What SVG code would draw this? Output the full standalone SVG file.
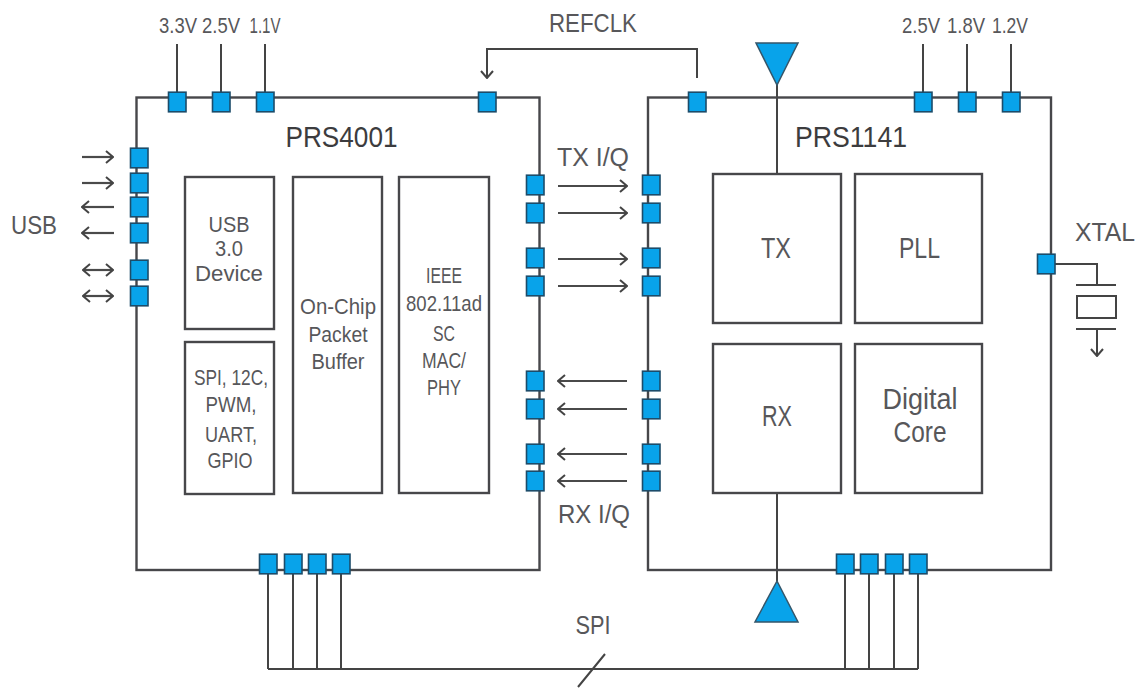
<svg xmlns="http://www.w3.org/2000/svg" width="1136" height="689" viewBox="0 0 1136 689">
<style>
text{font-family:"Liberation Sans",Arial,sans-serif;fill:#57575a;text-anchor:middle}
.t{font-size:22px}.m{font-size:30px;fill:#3c3c3e}.b{font-size:22px}.c{font-size:29px}.s{font-size:22px}.x{font-size:26px}
.box{fill:#fff;stroke:#47474a;stroke-width:2.4}
.chip{fill:none;stroke:#47474a;stroke-width:2.4}
.l{fill:none;stroke:#444;stroke-width:2}
.pad{fill:#08a3ea;stroke:#1c4c6a;stroke-width:1.6}
.ant{fill:#08a3ea;stroke:#35566a;stroke-width:1.5}
.a{fill:none;stroke:#4a4a4a;stroke-width:2.2}
</style>
<defs>
<marker id="ah" viewBox="0 0 10 14" refX="9" refY="7" markerWidth="10" markerHeight="14" markerUnits="userSpaceOnUse" orient="auto-start-reverse"><path d="M2 1L9 7L2 13" fill="none" stroke="#444" stroke-width="2"/></marker>
<rect id="p" x="-8.500" y="-9.800" width="17.500" height="19.600" class="pad"/>
</defs>
<g id="connectors">
<path class="l" d="M177 44V102M221 44V102M265 44V102M923 44V102M967 44V102M1011 44V102"/>
<path class="l" d="M697 78V49H487V78" marker-end="url(#ah)"/>
<path class="l" d="M777 85V174M777 493V581"/>
<path class="l" d="M268 564V669M293 564V669M317 564V669M341 564V669M845 564V669M869 564V669M894 564V669M918 564V669M268 669H918M578 687L605 654"/>
<path class="l" d="M1046 264H1097V285"/>
<path class="l" d="M1097 329V356" marker-end="url(#ah)"/>
<g class="a" marker-end="url(#ah)">
<path d="M82 157H113"/><path d="M82 183H113"/><path d="M114 207H82"/><path d="M114 233H82"/>
<path d="M558 186H627"/><path d="M558 213H627"/><path d="M558 259H627"/><path d="M558 286H627"/>
<path d="M627 381H558"/><path d="M627 409H558"/><path d="M627 454H558"/><path d="M627 481H558"/>
</g>
<path class="a" d="M83 270H113" marker-start="url(#ah)" marker-end="url(#ah)"/>
<path class="a" d="M83 296H113" marker-start="url(#ah)" marker-end="url(#ah)"/>
</g>
<g id="PRS4001">
<rect class="chip" x="136.500" y="97.500" width="403" height="472.500"/>
<text class="m" x="341.500" y="147" textLength="112" lengthAdjust="spacingAndGlyphs">PRS4001</text>
</g>
<g id="PRS1141">
<rect class="chip" x="648" y="97.500" width="403" height="472.500"/>
<text class="m" x="851" y="147" textLength="112" lengthAdjust="spacingAndGlyphs">PRS1141</text>
</g>
<g id="usb-device"><rect class="box" x="185" y="177" width="89" height="152"/>
<text class="b" x="229" y="232" textLength="41" lengthAdjust="spacingAndGlyphs">USB</text><text class="b" x="229" y="256" textLength="28" lengthAdjust="spacingAndGlyphs">3.0</text><text class="b" x="229" y="281" textLength="68" lengthAdjust="spacingAndGlyphs">Device</text></g>
<g id="peripherals"><rect class="box" x="185" y="342" width="89" height="152"/>
<text class="s" x="231" y="385" textLength="74" lengthAdjust="spacingAndGlyphs">SPI, 12C,</text><text class="s" x="231" y="412" textLength="51" lengthAdjust="spacingAndGlyphs">PWM,</text><text class="s" x="231" y="442" textLength="52" lengthAdjust="spacingAndGlyphs">UART,</text><text class="s" x="230" y="468" textLength="45" lengthAdjust="spacingAndGlyphs">GPIO</text></g>
<g id="packet-buffer"><rect class="box" x="293" y="177" width="89" height="316"/>
<text class="b" x="338" y="314" textLength="76" lengthAdjust="spacingAndGlyphs">On-Chip</text><text class="b" x="338" y="342" textLength="59" lengthAdjust="spacingAndGlyphs">Packet</text><text class="b" x="338" y="369" textLength="53" lengthAdjust="spacingAndGlyphs">Buffer</text></g>
<g id="mac-phy"><rect class="box" x="399" y="177" width="90" height="316"/>
<text class="s" x="444" y="283" textLength="36" lengthAdjust="spacingAndGlyphs">IEEE</text><text class="s" x="444" y="311" textLength="76" lengthAdjust="spacingAndGlyphs">802.11ad</text><text class="s" x="444" y="341" textLength="22" lengthAdjust="spacingAndGlyphs">SC</text><text class="s" x="444" y="368" textLength="44" lengthAdjust="spacingAndGlyphs">MAC/</text><text class="s" x="444" y="395" textLength="34" lengthAdjust="spacingAndGlyphs">PHY</text></g>
<g id="tx"><rect class="box" x="713" y="174" width="128" height="149"/><text class="c" x="776" y="258" textLength="30" lengthAdjust="spacingAndGlyphs">TX</text></g>
<g id="pll"><rect class="box" x="855" y="174" width="127" height="149"/><text class="c" x="919.500" y="258" textLength="41" lengthAdjust="spacingAndGlyphs">PLL</text></g>
<g id="rx"><rect class="box" x="713" y="344" width="128" height="149"/><text class="c" x="777" y="426" textLength="30" lengthAdjust="spacingAndGlyphs">RX</text></g>
<g id="digital-core"><rect class="box" x="855" y="344" width="127" height="149"/><text class="c" x="920" y="409" textLength="75" lengthAdjust="spacingAndGlyphs">Digital</text><text class="c" x="920" y="442" textLength="53" lengthAdjust="spacingAndGlyphs">Core</text></g>
<g id="antennas">
<path class="ant" d="M756 43H798L777 85Z"/>
<path class="ant" d="M777 581L798 622H755Z"/>
</g>
<g id="crystal">
<path class="l" d="M1076 285H1116M1076 329H1116"/>
<rect x="1077" y="296" width="39" height="22" fill="#fff" stroke="#444" stroke-width="2"/>
</g>
<g id="pads">
<use href="#p" x="177" y="102"/><use href="#p" x="221" y="102"/><use href="#p" x="265" y="102"/><use href="#p" x="487" y="102"/>
<use href="#p" x="697" y="102"/><use href="#p" x="923" y="102"/><use href="#p" x="967" y="102"/><use href="#p" x="1011" y="102"/>
<use href="#p" x="139" y="158"/><use href="#p" x="139" y="183"/><use href="#p" x="139" y="207"/><use href="#p" x="139" y="233"/><use href="#p" x="139" y="270"/><use href="#p" x="139" y="296"/>
<use href="#p" x="535" y="185"/><use href="#p" x="535" y="213"/><use href="#p" x="535" y="258"/><use href="#p" x="535" y="286"/><use href="#p" x="535" y="381"/><use href="#p" x="535" y="409"/><use href="#p" x="535" y="454"/><use href="#p" x="535" y="481"/>
<use href="#p" x="651" y="185"/><use href="#p" x="651" y="213"/><use href="#p" x="651" y="258"/><use href="#p" x="651" y="286"/><use href="#p" x="651" y="381"/><use href="#p" x="651" y="409"/><use href="#p" x="651" y="454"/><use href="#p" x="651" y="481"/>
<use href="#p" x="268" y="564"/><use href="#p" x="293" y="564"/><use href="#p" x="317" y="564"/><use href="#p" x="341" y="564"/>
<use href="#p" x="845" y="564"/><use href="#p" x="869" y="564"/><use href="#p" x="894" y="564"/><use href="#p" x="918" y="564"/>
<use href="#p" x="1046" y="264"/>
</g>
<g id="labels">
<text class="t" x="178" y="33" textLength="38" lengthAdjust="spacingAndGlyphs">3.3V</text><text class="t" x="221" y="33" textLength="38" lengthAdjust="spacingAndGlyphs">2.5V</text><text class="t" x="265" y="33" textLength="31" lengthAdjust="spacingAndGlyphs">1.1V</text>
<text class="t" x="921" y="33" textLength="38" lengthAdjust="spacingAndGlyphs">2.5V</text><text class="t" x="966" y="33" textLength="38" lengthAdjust="spacingAndGlyphs">1.8V</text><text class="t" x="1010" y="33" textLength="36" lengthAdjust="spacingAndGlyphs">1.2V</text>
<text class="x" x="593" y="32" textLength="88" lengthAdjust="spacingAndGlyphs">REFCLK</text>
<text class="x" x="593" y="166" textLength="72" lengthAdjust="spacingAndGlyphs">TX I/Q</text>
<text class="x" x="594" y="523" textLength="72" lengthAdjust="spacingAndGlyphs">RX I/Q</text>
<text class="x" x="34" y="234" textLength="46" lengthAdjust="spacingAndGlyphs">USB</text>
<text class="x" x="1105" y="241" textLength="60" lengthAdjust="spacingAndGlyphs">XTAL</text>
<text class="x" x="593" y="634" textLength="35" lengthAdjust="spacingAndGlyphs">SPI</text>
</g>
</svg>
